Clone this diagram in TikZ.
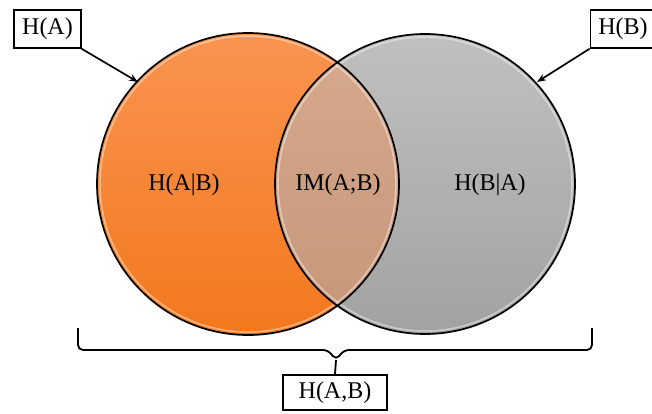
\documentclass[tikz,border=0pt]{standalone}
\usepackage{fontspec}
\setmainfont{Liberation Serif}
\usetikzlibrary{arrows.meta}

\definecolor{orangeTop}{RGB}{250,148,80}
\definecolor{orangeBot}{RGB}{242,120,30}
\definecolor{grayTop}{RGB}{192,192,192}
\definecolor{grayBot}{RGB}{162,162,162}
\definecolor{tanTop}{RGB}{214,170,142}
\definecolor{tanBot}{RGB}{198,150,120}

\begin{document}
\begin{tikzpicture}[x=1pt,y=-1pt,
  lbl/.style={font=\fontsize{24}{28}\selectfont},
  labelbox/.style={draw, line width=1.4pt, fill=white, lbl, inner xsep=8pt, minimum height=38pt},
  rim/.style={draw=black, line width=1.7pt},
  pointer/.style={-{Stealth[length=9pt,width=7pt]}, line width=1.7pt}]

\useasboundingbox (0,0) rectangle (652,413);

% circles
\shade[top color=orangeTop, bottom color=orangeBot] (248,184) circle (151);
\shade[top color=grayTop, bottom color=grayBot] (425,184) circle (150);
\begin{scope}
\clip (248,184) circle (151);
\shade[top color=tanTop, bottom color=tanBot] (425,184) circle (150);
\end{scope}
\draw[white, opacity=0.45, line width=1.5pt] (248,184) circle (148);
\draw[white, opacity=0.45, line width=1.5pt] (425,184) circle (147);
\draw[rim] (248,184) circle (151);
\draw[rim] (425,184) circle (150);

% texts
\node[lbl] (hab) at (184,185) {H(A|B)};
\node[lbl] (im) at (338,185) {IM(A;B)};
\node[lbl] (hba) at (490,185) {H(B|A)};

% boxes
\node[labelbox] (ha) at (47.5,29) {H(A)};
\node[labelbox] (hb) at (623,29) {H(B)};
\node[labelbox, minimum width=104pt, minimum height=35pt] (hjoint) at (335,392.5) {H(A,B)};

% arrows
\coordinate (tipa) at (138,82);
\coordinate (tipb) at (537,82);
\draw[pointer] (ha.south east) -- (tipa);
\draw[pointer] (hb.south west) -- (tipb);

% brace
\coordinate (bl) at (78,328);
\coordinate (br) at (592,328);
\coordinate (bm) at (336,360);
\draw[line width=1.8pt, rounded corners=5pt] (bl) -- (78,350) -- (328,350) -- (bm) -- (344,350) -- (592,350) -- (br);
\draw[line width=1.8pt] (bm) -- (hjoint.north);

\end{tikzpicture}
\end{document}
